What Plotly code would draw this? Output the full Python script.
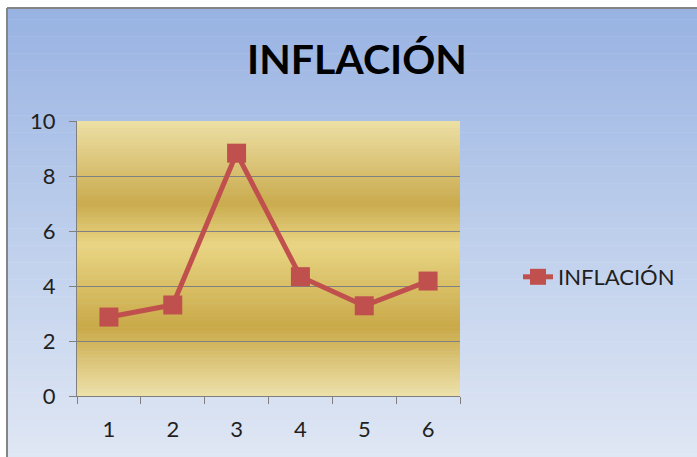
import plotly.graph_objects as go

categories = ["1", "2", "3", "4", "5", "6"]
inflacion = [2.87, 3.31, 8.83, 4.34, 3.28, 4.18]
series_name = "INFLACIÓN"
title_text = "INFLACIÓN"

W, H = 697, 457
L, R, T, B = 77, 237, 121, 61
PW, PH = W - L - R, H - T - B

def px2x(px):
    return (px - L) / PW

def py2y(py):
    return (H - B - py) / PH

def lerp(c1, c2, t):
    return tuple(int(round(a + (b - a) * t)) for a, b in zip(c1, c2))

def grad(stops, t):
    for i in range(len(stops) - 1):
        t0, c0 = stops[i]
        t1, c1 = stops[i + 1]
        if t0 <= t <= t1:
            return lerp(c0, c1, (t - t0) / (t1 - t0) if t1 > t0 else 0)
    return stops[-1][1]

shapes = []
# background gradient (top -> bottom)
bg_stops = [(0.0, (152, 178, 226)), (0.5, (190, 207, 236)), (1.0, (224, 231, 244))]
top_py, bot_py = 8, 460
n = 80
for i in range(n):
    p0 = top_py + (bot_py - top_py) * i / n
    p1 = top_py + (bot_py - top_py) * (i + 1) / n + 0.5
    c = grad(bg_stops, (i + 0.5) / n)
    shapes.append(dict(type="rect", xref="paper", yref="paper",
                       x0=px2x(7), x1=px2x(700), y0=py2y(p1), y1=py2y(p0),
                       fillcolor="rgb(%d,%d,%d)" % c, line=dict(width=0), layer="below"))
# plot-area gold gradient (value 10 -> 0)
gold_stops = [(0.0, (237, 224, 165)), (0.3, (202, 171, 78)), (0.45, (233, 213, 132)),
              (0.75, (201, 169, 72)), (1.0, (237, 225, 170))]
m = 80
for i in range(m):
    v1 = 10 - 10 * i / m
    v0 = 10 - 10 * (i + 1) / m - 0.02
    c = grad(gold_stops, (i + 0.5) / m)
    shapes.append(dict(type="rect", xref="x domain", yref="y",
                       x0=0, x1=1, y0=max(v0, 0), y1=v1,
                       fillcolor="rgb(%d,%d,%d)" % c, line=dict(width=0), layer="below"))
# outer border
shapes.append(dict(type="line", xref="paper", yref="paper", x0=px2x(7), x1=px2x(700),
                   y0=py2y(8), y1=py2y(8), line=dict(color="#858585", width=2)))
shapes.append(dict(type="line", xref="paper", yref="paper", x0=px2x(7), x1=px2x(7),
                   y0=py2y(8), y1=py2y(460), line=dict(color="#858585", width=2)))

fig = go.Figure()
fig.add_trace(go.Scatter(
    x=categories, y=inflacion, name=series_name, mode="lines+markers",
    line=dict(color="#c0504d", width=5),
    marker=dict(symbol="square", size=19, color="#c0504d"),
))

fig.update_layout(
    width=W, height=H,
    margin=dict(l=L, r=R, t=T, b=B),
    paper_bgcolor="white",
    plot_bgcolor="rgba(0,0,0,0)",
    shapes=shapes,
    font=dict(family="Lato, Open Sans, sans-serif", color="#1f1f1f", size=22),
    title=dict(text="<b>" + title_text + "</b>", x=357 / W, xanchor="center",
               y=1 - 60 / H, yanchor="middle",
               font=dict(size=41, family="Lato, Open Sans, sans-serif", color="#000000")),
    showlegend=True,
    legend=dict(x=px2x(518), y=py2y(277), xanchor="left", yanchor="middle",
                bgcolor="rgba(0,0,0,0)", font=dict(size=22)),
    xaxis=dict(type="category", tickson="boundaries", ticks="outside", ticklen=7,
               tickcolor="#808080", showline=True, linecolor="#808080", linewidth=1,
               showgrid=False, range=[-0.5, 5.5], fixedrange=True,
               ticklabelstandoff=14),
    yaxis=dict(range=[0, 10], dtick=2, ticks="outside", ticklen=7, tickcolor="#808080",
               showline=True, linecolor="#808080", linewidth=1,
               showgrid=True, gridcolor="#808080", gridwidth=1, zeroline=False,
               fixedrange=True, ticklabelstandoff=9),
)

fig.write_html("out.html")
